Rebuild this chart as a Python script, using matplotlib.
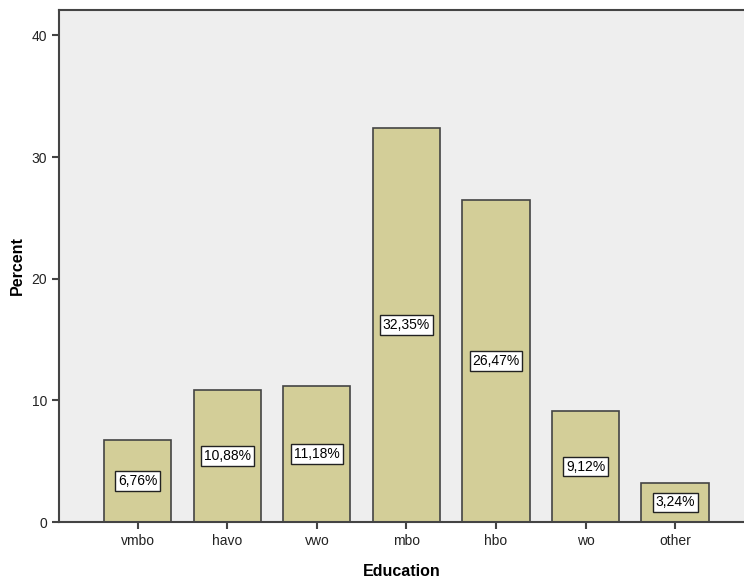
import matplotlib.pyplot as plt

categories = ['vmbo', 'havo', 'vwo', 'mbo', 'hbo', 'wo', 'other']
percent = [6.76, 10.88, 11.18, 32.35, 26.47, 9.12, 3.24]
labels = ['6,76%', '10,88%', '11,18%', '32,35%', '26,47%', '9,12%', '3,24%']

plt.rcParams['font.family'] = ['Liberation Sans', 'DejaVu Sans']

fig = plt.figure(figsize=(7.44, 5.8), dpi=100)
ax = fig.add_axes([0.0793, 0.1, 0.9207, 0.883])
ax.set_facecolor('#eeeeee')

x = list(range(len(categories)))
ax.bar(x, percent, width=0.75, color='#d3ce98', edgecolor='#444444', linewidth=1.2, zorder=2)

for xi, v, lab in zip(x, percent, labels):
    ax.text(xi, v / 2, lab, ha='center', va='center', fontsize=10, zorder=3,
            bbox=dict(boxstyle='square,pad=0.2', facecolor='white', edgecolor='#222222', linewidth=1))

ax.set_xlim(-0.88, 6.77)
ax.set_ylim(0, 42.1)
ax.set_yticks([0, 10, 20, 30, 40])
ax.set_xticks(x)
ax.set_xticklabels(categories)
ax.tick_params(axis='both', direction='out', length=5, width=1.5, color='#444444', labelsize=10, labelcolor='#222222')

for side in ['left', 'bottom', 'top']:
    ax.spines[side].set_color('#444444')
    ax.spines[side].set_linewidth(1.5)
ax.spines['right'].set_visible(False)

ax.set_ylabel('Percent', fontsize=11.5, fontweight='bold', labelpad=5)
ax.set_xlabel('Education', fontsize=11.5, fontweight='bold', labelpad=12)

plt.savefig('out.png', dpi=100)
